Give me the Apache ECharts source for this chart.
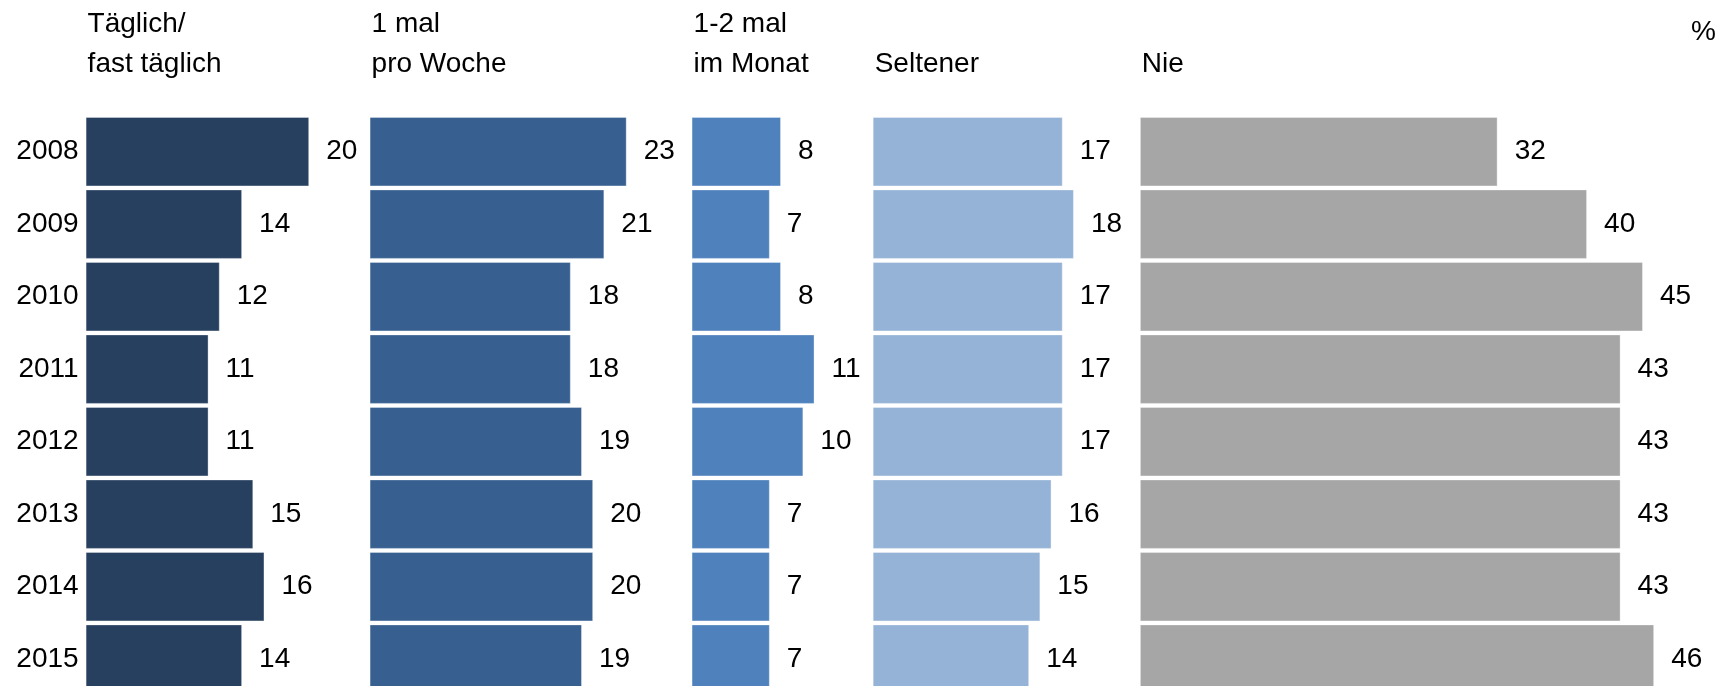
<!DOCTYPE html>
<html>
<head>
<meta charset="utf-8">
<script src="https://cdn.jsdelivr.net/npm/echarts@6/dist/echarts.min.js"></script>
<style>
    html, body { margin: 0; padding: 0; background: #fff; }
    #chart { width: 1722px; height: 686px; }
</style>
</head>
<body>
<div id="chart"></div>
<script>
    const years = ['2008', '2009', '2010', '2011', '2012', '2013', '2014', '2015'];
    const headers = ['Täglich/\nfast täglich', '1 mal\npro Woche', '1-2 mal\nim Monat', '\nSeltener', '\nNie'];
    const taeglich = [20, 14, 12, 11, 11, 15, 16, 14];
    const wochentlich = [23, 21, 18, 18, 19, 20, 20, 19];
    const monatlich = [8, 7, 8, 11, 10, 7, 7, 7];
    const seltener = [17, 18, 17, 17, 17, 16, 15, 14];
    const nie = [32, 40, 45, 43, 43, 43, 43, 46];
    const unitLabel = '%';

    const seriesData = [taeglich, wochentlich, monatlich, seltener, nie];
    const colors = ['#27405f', '#376091', '#4f81bd', '#95b3d7', '#a6a6a6'];
    // axis span per panel (units), panels share one px/unit scale
    const spans = [25.4, 28.8, 16.2, 23.9, 52];
    const unit = 11.18;
    const font = '"Liberation Sans", Arial, sans-serif';
    const fs = 28;

    const chart = echarts.init(document.getElementById('chart'));

    const grids = [], xAxes = [], yAxes = [], series = [], graphics = [];
    let left = 85.6;
    seriesData.forEach((data, i) => {
        const width = spans[i] * unit;
        grids.push({ left: left, top: 115.4, width: width, height: 580, outerBoundsMode: 'none', containLabel: false });
        xAxes.push({
            type: 'value', gridIndex: i, min: 0, max: spans[i], show: false
        });
        yAxes.push({
            type: 'category', gridIndex: i, data: years, inverse: true,
            axisLine: { show: false }, axisTick: { show: false },
            splitLine: { show: false },
            axisLabel: {
                show: i === 0, color: '#000', fontSize: fs, fontFamily: font, margin: 7
            }
        });
        series.push({
            type: 'bar', xAxisIndex: i, yAxisIndex: i, data: data,
            barWidth: 69.5,
            itemStyle: { color: colors[i], borderColor: 'rgba(255,255,255,0.35)', borderWidth: 1 },
            label: {
                show: true, position: 'right', distance: 17,
                color: '#000', fontSize: fs, fontFamily: font
            },
            silent: true
        });
        graphics.push({
            type: 'text', left: left + 2, top: 4,
            style: { text: headers[i], fill: '#000', fontSize: fs, fontFamily: font, lineHeight: 40 }
        });
        left += width;
    });
    graphics.push({
        type: 'text', right: 6, top: 18,
        style: { text: unitLabel, fill: '#000', fontSize: fs, fontFamily: font }
    });

    chart.setOption({
        animation: false,
        grid: grids,
        xAxis: xAxes,
        yAxis: yAxes,
        series: series,
        graphic: graphics
    });
</script>
</body>
</html>
